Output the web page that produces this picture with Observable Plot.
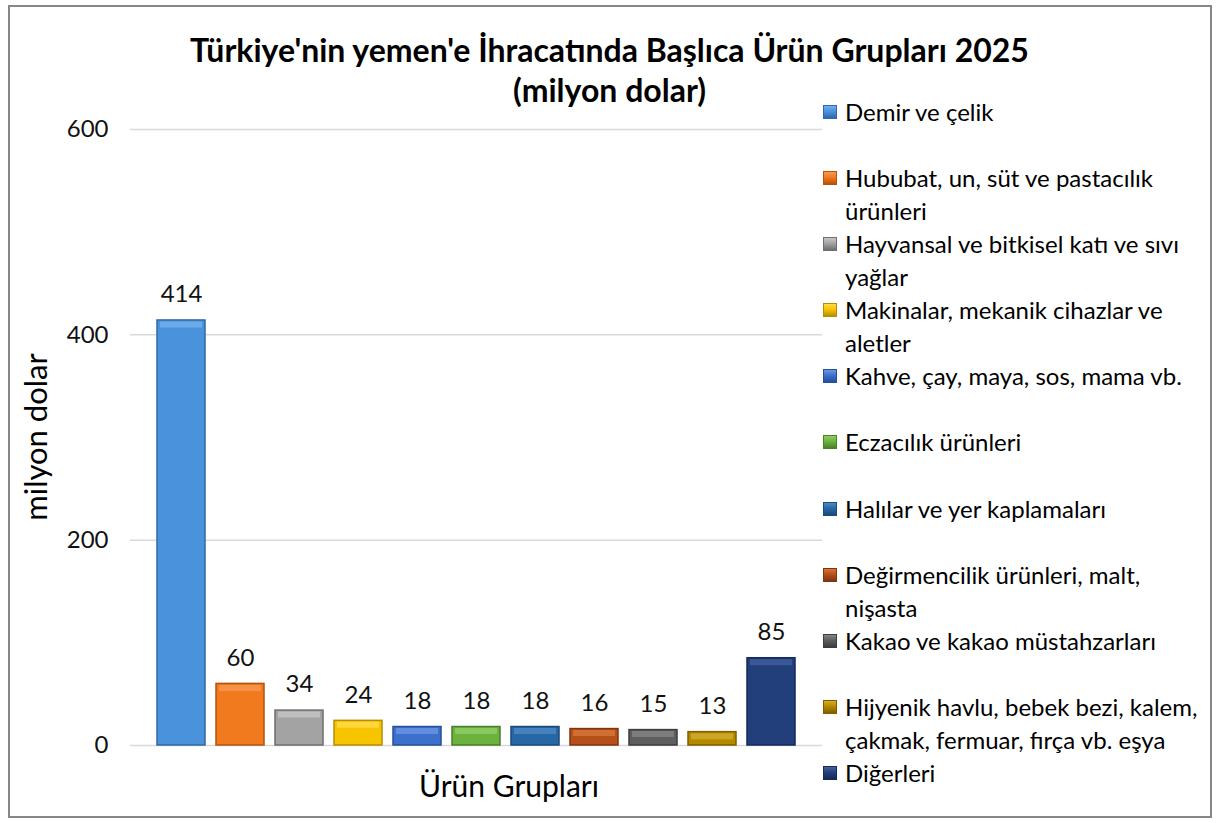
<!DOCTYPE html>
<html>
<head>
<meta charset="utf-8">
<script src="https://cdn.jsdelivr.net/npm/d3@7"></script>
<script src="https://cdn.jsdelivr.net/npm/@observablehq/plot@0.6"></script>
<style>
  html, body { margin: 0; padding: 0; background: #fff; }
  body { width: 1219px; height: 823px; overflow: hidden; font-family: Lato, "Open Sans", sans-serif; }
  #wrap { position: relative; width: 1219px; height: 823px; }
  #frame { position: absolute; left: 8px; top: 5px; width: 1200px; height: 809px; border: 2px solid #878787; }
  #title { position: absolute; left: 0; width: 1219px; top: 30px; text-align: center; font-weight: 700; font-size: 32px; line-height: 40px; color: #000; }
  #plot { position: absolute; left: 0; top: 0; }
  #ylab { position: absolute; left: 35px; top: 437px; transform: translate(-50%, -50%) rotate(-90deg); font-size: 31px; color: #000; white-space: nowrap; }
  #xlab { position: absolute; left: 509px; top: 785px; transform: translate(-50%, -50%); font-size: 30px; color: #000; white-space: nowrap; }
  #legend { position: absolute; left: 822px; top: 95px; width: 395px; }
  .item { position: relative; height: 66.1px; font-size: 24px; line-height: 33px; color: #000; }
  .sw { position: absolute; left: 1px; top: 10px; width: 14px; height: 14px; box-sizing: border-box; }
  .txt { position: absolute; left: 23px; top: 0; width: 372px; }
</style>
</head>
<body>
<div id="wrap">
  <div id="frame"></div>
  <div id="title"></div>
  <div id="plot"></div>
  <div id="ylab"></div>
  <div id="xlab"></div>
  <div id="legend"></div>
</div>
<script>
const titleLines = ["Türkiye'nin yemen'e İhracatında Başlıca Ürün Grupları 2025", "(milyon dolar)"];
const yAxisLabel = "milyon dolar";
const xAxisLabel = "Ürün Grupları";

const categories = [
  "Demir ve çelik",
  "Hububat, un, süt ve pastacılık ürünleri",
  "Hayvansal ve bitkisel katı ve sıvı yağlar",
  "Makinalar, mekanik cihazlar ve aletler",
  "Kahve, çay, maya, sos, mama vb.",
  "Eczacılık ürünleri",
  "Halılar ve yer kaplamaları",
  "Değirmencilik ürünleri, malt, nişasta",
  "Kakao ve kakao müstahzarları",
  "Hijyenik havlu, bebek bezi, kalem, çakmak, fermuar, fırça vb. eşya",
  "Diğerleri"
];
const values = [414, 60, 34, 24, 18, 18, 18, 16, 15, 13, 85];
const yTicks = [0, 200, 400, 600];
const palette = ["#4a93dc", "#f27a1e", "#a3a3a3", "#f7c400", "#3d6fcc", "#6db23f", "#2867a6", "#b5501a", "#5e5e5e", "#b58a00", "#223f7c"];
const highlight = ["#72b0ec", "#f89a52", "#c6c6c6", "#ffdb4d", "#6a96e4", "#8fcd64", "#4f89c4", "#d87538", "#858585", "#d4ad2e", "#41609c"];
const edge = ["#2f6aa6", "#b4530c", "#6e6e6e", "#b58f00", "#274f99", "#4a8028", "#1a4a7a", "#7f3610", "#3d3d3d", "#7d5f00", "#142a57"];

const data = categories.map((c, i) => ({cat: c, v: values[i], i}));

document.getElementById("title").innerHTML = titleLines.map(t => `<div>${t}</div>`).join("");
document.getElementById("ylab").textContent = yAxisLabel;
document.getElementById("xlab").textContent = xAxisLabel;

const chart = Plot.plot({
  width: 1219,
  height: 823,
  marginLeft: 130,
  marginRight: 397,
  marginTop: 129,
  marginBottom: 78,
  style: {fontFamily: "Lato, 'Open Sans', sans-serif", fontSize: "24px", color: "#111", background: "transparent"},
  x: {domain: categories, paddingInner: 0.19, paddingOuter: 0.42, axis: null},
  y: {domain: [0, 600], ticks: yTicks, label: null},
  color: {domain: categories, range: palette},
  marks: [
    Plot.ruleY(yTicks, {stroke: "#d9d9d9", strokeWidth: 1.5}),
    Plot.axisY({ticks: yTicks, tickSize: 0, tickPadding: 22, label: null, fontSize: 24}),
    Plot.barY(data, {x: "cat", y: "v", fill: "cat", stroke: d => edge[d.i], strokeWidth: 1.5}),
    Plot.tickY(data, {x: "cat", y: "v", stroke: d => highlight[d.i], strokeWidth: 6, dy: 4, insetLeft: 3, insetRight: 3, strokeOpacity: 0.8}),
    Plot.text(data, {x: "cat", y: "v", text: d => String(d.v), dy: -26, fontSize: 24, fill: "#111"})
  ]
});
document.getElementById("plot").appendChild(chart);

const legend = document.getElementById("legend");
categories.forEach((c, i) => {
  const it = document.createElement("div");
  it.className = "item";
  it.innerHTML = `<div class="sw" style="background:linear-gradient(${highlight[i]}, ${palette[i]} 45%, ${edge[i]});border:1px solid ${edge[i]}"></div><div class="txt">${c}</div>`;
  legend.appendChild(it);
});
</script>
</body>
</html>
